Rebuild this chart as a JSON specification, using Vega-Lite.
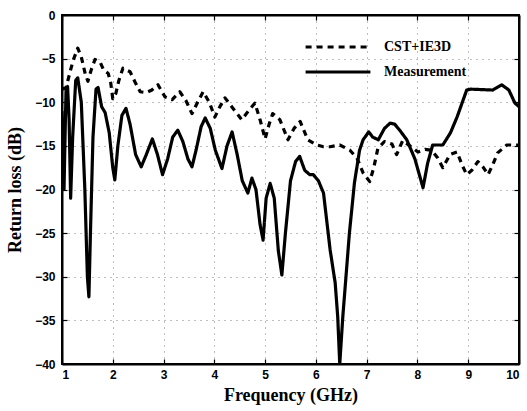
{
  "$schema": "https://vega.github.io/schema/vega-lite/v6.json",
  "autosize": "none",
  "width": 457,
  "height": 349,
  "padding": {"left": 62, "top": 15, "right": 8, "bottom": 47},
  "background": "white",
  "config": {
    "view": {"stroke": "black", "strokeWidth": 2},
    "axis": {
      "domainColor": "black", "domainWidth": 2,
      "tickColor": "black", "tickWidth": 1.2,
      "labelFont": "Liberation Sans", "labelFontWeight": "bold", "labelFontSize": 12, "labelColor": "black",
      "titleFont": "Liberation Serif", "titleFontWeight": "bold", "titleFontSize": 18, "titleColor": "black",
      "gridColor": "black", "gridDash": [1, 5], "gridOpacity": 0.5, "gridWidth": 1
    }
  },
  "data": {"values": [
    {"f":1.00,"rl":-11,"s":"Measurement"},{"f":1.02,"rl":-16,"s":"Measurement"},{"f":1.04,"rl":-20,"s":"Measurement"},{"f":1.06,"rl":-14,"s":"Measurement"},{"f":1.08,"rl":-8.5,"s":"Measurement"},{"f":1.11,"rl":-8.2,"s":"Measurement"},{"f":1.14,"rl":-12,"s":"Measurement"},{"f":1.17,"rl":-21,"s":"Measurement"},{"f":1.21,"rl":-14,"s":"Measurement"},{"f":1.27,"rl":-7.5,"s":"Measurement"},{"f":1.31,"rl":-7.2,"s":"Measurement"},{"f":1.38,"rl":-10,"s":"Measurement"},{"f":1.45,"rl":-20,"s":"Measurement"},{"f":1.50,"rl":-30,"s":"Measurement"},{"f":1.53,"rl":-32.3,"s":"Measurement"},{"f":1.56,"rl":-25,"s":"Measurement"},{"f":1.61,"rl":-14,"s":"Measurement"},{"f":1.67,"rl":-8.5,"s":"Measurement"},{"f":1.71,"rl":-8.3,"s":"Measurement"},{"f":1.78,"rl":-10.5,"s":"Measurement"},{"f":1.85,"rl":-11.2,"s":"Measurement"},{"f":1.93,"rl":-13.5,"s":"Measurement"},{"f":2.00,"rl":-17.5,"s":"Measurement"},{"f":2.04,"rl":-18.9,"s":"Measurement"},{"f":2.10,"rl":-15,"s":"Measurement"},{"f":2.18,"rl":-11.5,"s":"Measurement"},{"f":2.26,"rl":-10.7,"s":"Measurement"},{"f":2.34,"rl":-12.5,"s":"Measurement"},{"f":2.45,"rl":-16,"s":"Measurement"},{"f":2.56,"rl":-17.4,"s":"Measurement"},{"f":2.66,"rl":-16,"s":"Measurement"},{"f":2.78,"rl":-14.2,"s":"Measurement"},{"f":2.88,"rl":-16,"s":"Measurement"},{"f":2.98,"rl":-18.3,"s":"Measurement"},{"f":3.08,"rl":-16.5,"s":"Measurement"},{"f":3.18,"rl":-14,"s":"Measurement"},{"f":3.28,"rl":-13.2,"s":"Measurement"},{"f":3.38,"rl":-14.5,"s":"Measurement"},{"f":3.48,"rl":-16.5,"s":"Measurement"},{"f":3.56,"rl":-17.4,"s":"Measurement"},{"f":3.64,"rl":-15.5,"s":"Measurement"},{"f":3.74,"rl":-12.8,"s":"Measurement"},{"f":3.82,"rl":-11.8,"s":"Measurement"},{"f":3.92,"rl":-13,"s":"Measurement"},{"f":4.02,"rl":-15.5,"s":"Measurement"},{"f":4.15,"rl":-17.6,"s":"Measurement"},{"f":4.25,"rl":-15,"s":"Measurement"},{"f":4.35,"rl":-13.4,"s":"Measurement"},{"f":4.45,"rl":-16,"s":"Measurement"},{"f":4.55,"rl":-19,"s":"Measurement"},{"f":4.66,"rl":-20.4,"s":"Measurement"},{"f":4.74,"rl":-18.7,"s":"Measurement"},{"f":4.82,"rl":-20,"s":"Measurement"},{"f":4.90,"rl":-24,"s":"Measurement"},{"f":4.96,"rl":-25.8,"s":"Measurement"},{"f":5.02,"rl":-21,"s":"Measurement"},{"f":5.10,"rl":-19.3,"s":"Measurement"},{"f":5.18,"rl":-21,"s":"Measurement"},{"f":5.26,"rl":-27,"s":"Measurement"},{"f":5.33,"rl":-29.8,"s":"Measurement"},{"f":5.40,"rl":-25,"s":"Measurement"},{"f":5.50,"rl":-19,"s":"Measurement"},{"f":5.60,"rl":-16.8,"s":"Measurement"},{"f":5.68,"rl":-16.2,"s":"Measurement"},{"f":5.78,"rl":-17.8,"s":"Measurement"},{"f":5.88,"rl":-18.3,"s":"Measurement"},{"f":5.95,"rl":-18.3,"s":"Measurement"},{"f":6.05,"rl":-19,"s":"Measurement"},{"f":6.15,"rl":-20.4,"s":"Measurement"},{"f":6.28,"rl":-26.9,"s":"Measurement"},{"f":6.38,"rl":-30.7,"s":"Measurement"},{"f":6.43,"rl":-34.6,"s":"Measurement"},{"f":6.47,"rl":-40,"s":"Measurement"},{"f":6.53,"rl":-34.6,"s":"Measurement"},{"f":6.66,"rl":-25,"s":"Measurement"},{"f":6.76,"rl":-19.2,"s":"Measurement"},{"f":6.86,"rl":-15.5,"s":"Measurement"},{"f":6.93,"rl":-14.3,"s":"Measurement"},{"f":7.04,"rl":-13.4,"s":"Measurement"},{"f":7.12,"rl":-14,"s":"Measurement"},{"f":7.23,"rl":-14.3,"s":"Measurement"},{"f":7.35,"rl":-13,"s":"Measurement"},{"f":7.46,"rl":-12.4,"s":"Measurement"},{"f":7.55,"rl":-12.5,"s":"Measurement"},{"f":7.65,"rl":-13.2,"s":"Measurement"},{"f":7.79,"rl":-14.3,"s":"Measurement"},{"f":7.95,"rl":-16.5,"s":"Measurement"},{"f":8.11,"rl":-19.8,"s":"Measurement"},{"f":8.20,"rl":-17,"s":"Measurement"},{"f":8.30,"rl":-14.9,"s":"Measurement"},{"f":8.50,"rl":-14.9,"s":"Measurement"},{"f":8.65,"rl":-13.5,"s":"Measurement"},{"f":8.78,"rl":-11.7,"s":"Measurement"},{"f":8.97,"rl":-8.6,"s":"Measurement"},{"f":9.05,"rl":-8.5,"s":"Measurement"},{"f":9.48,"rl":-8.6,"s":"Measurement"},{"f":9.66,"rl":-8.0,"s":"Measurement"},{"f":9.80,"rl":-8.6,"s":"Measurement"},{"f":9.92,"rl":-10.1,"s":"Measurement"},{"f":10.0,"rl":-10.5,"s":"Measurement"},
    {"f":1.00,"rl":-8.5,"s":"CST+IE3D"},{"f":1.08,"rl":-8.3,"s":"CST+IE3D"},{"f":1.16,"rl":-6.5,"s":"CST+IE3D"},{"f":1.22,"rl":-5.2,"s":"CST+IE3D"},{"f":1.31,"rl":-3.8,"s":"CST+IE3D"},{"f":1.38,"rl":-4.8,"s":"CST+IE3D"},{"f":1.46,"rl":-6.8,"s":"CST+IE3D"},{"f":1.51,"rl":-7.6,"s":"CST+IE3D"},{"f":1.58,"rl":-6.2,"s":"CST+IE3D"},{"f":1.65,"rl":-5.1,"s":"CST+IE3D"},{"f":1.75,"rl":-5.4,"s":"CST+IE3D"},{"f":1.82,"rl":-6.3,"s":"CST+IE3D"},{"f":1.91,"rl":-6.7,"s":"CST+IE3D"},{"f":1.96,"rl":-7.8,"s":"CST+IE3D"},{"f":2.00,"rl":-9.6,"s":"CST+IE3D"},{"f":2.06,"rl":-9,"s":"CST+IE3D"},{"f":2.12,"rl":-7.5,"s":"CST+IE3D"},{"f":2.20,"rl":-6.1,"s":"CST+IE3D"},{"f":2.34,"rl":-6.5,"s":"CST+IE3D"},{"f":2.44,"rl":-7.7,"s":"CST+IE3D"},{"f":2.54,"rl":-8.8,"s":"CST+IE3D"},{"f":2.66,"rl":-8.9,"s":"CST+IE3D"},{"f":2.77,"rl":-8.6,"s":"CST+IE3D"},{"f":2.89,"rl":-8.0,"s":"CST+IE3D"},{"f":3.03,"rl":-9.4,"s":"CST+IE3D"},{"f":3.17,"rl":-9.7,"s":"CST+IE3D"},{"f":3.32,"rl":-8.8,"s":"CST+IE3D"},{"f":3.44,"rl":-9.8,"s":"CST+IE3D"},{"f":3.56,"rl":-11.3,"s":"CST+IE3D"},{"f":3.67,"rl":-10,"s":"CST+IE3D"},{"f":3.78,"rl":-8.8,"s":"CST+IE3D"},{"f":3.90,"rl":-10,"s":"CST+IE3D"},{"f":4.01,"rl":-11.7,"s":"CST+IE3D"},{"f":4.11,"rl":-10.5,"s":"CST+IE3D"},{"f":4.21,"rl":-9.5,"s":"CST+IE3D"},{"f":4.38,"rl":-10.8,"s":"CST+IE3D"},{"f":4.54,"rl":-12.0,"s":"CST+IE3D"},{"f":4.67,"rl":-11,"s":"CST+IE3D"},{"f":4.80,"rl":-10.1,"s":"CST+IE3D"},{"f":4.90,"rl":-12,"s":"CST+IE3D"},{"f":5.00,"rl":-14.2,"s":"CST+IE3D"},{"f":5.08,"rl":-12.5,"s":"CST+IE3D"},{"f":5.15,"rl":-11.3,"s":"CST+IE3D"},{"f":5.29,"rl":-12,"s":"CST+IE3D"},{"f":5.45,"rl":-14.3,"s":"CST+IE3D"},{"f":5.57,"rl":-13,"s":"CST+IE3D"},{"f":5.69,"rl":-12.2,"s":"CST+IE3D"},{"f":5.84,"rl":-14.3,"s":"CST+IE3D"},{"f":6.02,"rl":-14.9,"s":"CST+IE3D"},{"f":6.15,"rl":-15.1,"s":"CST+IE3D"},{"f":6.28,"rl":-15.1,"s":"CST+IE3D"},{"f":6.47,"rl":-14.9,"s":"CST+IE3D"},{"f":6.67,"rl":-15.5,"s":"CST+IE3D"},{"f":6.81,"rl":-16.4,"s":"CST+IE3D"},{"f":6.93,"rl":-18.1,"s":"CST+IE3D"},{"f":7.06,"rl":-19.1,"s":"CST+IE3D"},{"f":7.14,"rl":-17.5,"s":"CST+IE3D"},{"f":7.22,"rl":-15.3,"s":"CST+IE3D"},{"f":7.35,"rl":-14.5,"s":"CST+IE3D"},{"f":7.50,"rl":-14.8,"s":"CST+IE3D"},{"f":7.59,"rl":-16,"s":"CST+IE3D"},{"f":7.71,"rl":-14.4,"s":"CST+IE3D"},{"f":7.85,"rl":-15,"s":"CST+IE3D"},{"f":8.01,"rl":-15.7,"s":"CST+IE3D"},{"f":8.15,"rl":-15.4,"s":"CST+IE3D"},{"f":8.28,"rl":-15.5,"s":"CST+IE3D"},{"f":8.40,"rl":-16.4,"s":"CST+IE3D"},{"f":8.50,"rl":-17.5,"s":"CST+IE3D"},{"f":8.64,"rl":-16,"s":"CST+IE3D"},{"f":8.78,"rl":-15.7,"s":"CST+IE3D"},{"f":8.88,"rl":-17.2,"s":"CST+IE3D"},{"f":8.97,"rl":-18.3,"s":"CST+IE3D"},{"f":9.07,"rl":-17.8,"s":"CST+IE3D"},{"f":9.19,"rl":-16.8,"s":"CST+IE3D"},{"f":9.29,"rl":-17.4,"s":"CST+IE3D"},{"f":9.39,"rl":-18.3,"s":"CST+IE3D"},{"f":9.48,"rl":-17.2,"s":"CST+IE3D"},{"f":9.58,"rl":-15.8,"s":"CST+IE3D"},{"f":9.76,"rl":-14.9,"s":"CST+IE3D"},{"f":10.0,"rl":-14.9,"s":"CST+IE3D"}
  ]},
  "layer": [
    {
      "mark": {"type": "line", "color": "black", "strokeWidth": 3.2, "strokeJoin": "round", "clip": true},
      "encoding": {
        "x": {"field": "f", "type": "quantitative", "title": "Frequency (GHz)",
              "scale": {"domain": [1, 10], "nice": false},
              "axis": {"values": [1,2,3,4,5,6,7,8,9,10], "tickSize": -5, "labelPadding": 10, "titlePadding": 6, "grid": true}},
        "y": {"field": "rl", "type": "quantitative", "title": "Return loss (dB)",
              "scale": {"domain": [-40, 0], "nice": false},
              "axis": {"values": [0,-5,-10,-15,-20,-25,-30,-35,-40], "tickSize": -5, "labelPadding": 12, "titlePadding": 10, "grid": true}},
        "strokeDash": {"field": "s", "type": "nominal",
          "scale": {"domain": ["CST+IE3D", "Measurement"], "range": [[6, 5], [1, 0]]},
          "legend": {"title": null, "orient": "none", "legendX": 258, "legendY": 14,
                     "symbolType": "M-2,0H2", "symbolSize": 1050, "symbolStrokeWidth": 3.2, "symbolStrokeColor": "black", "symbolFillColor": "transparent",
                     "labelFont": "Liberation Serif", "labelFontWeight": "bold", "labelFontSize": 14, "labelColor": "black",
                     "rowPadding": 0, "labelOffset": 28}},
        "detail": {"field": "s"}
      }
    },
    {
      "mark": {"type": "line", "opacity": 0},
      "encoding": {
        "x": {"field": "f", "type": "quantitative",
              "axis": {"orient": "top", "values": [1,2,3,4,5,6,7,8,9,10], "labels": false, "title": null, "tickSize": -5, "grid": false}},
        "y": {"field": "rl", "type": "quantitative",
              "axis": {"orient": "right", "values": [0,-5,-10,-15,-20,-25,-30,-35,-40], "labels": false, "title": null, "tickSize": -5, "grid": false}},
        "detail": {"field": "s"}
      }
    }
  ],
  "resolve": {"axis": {"x": "independent", "y": "independent"}}
}
